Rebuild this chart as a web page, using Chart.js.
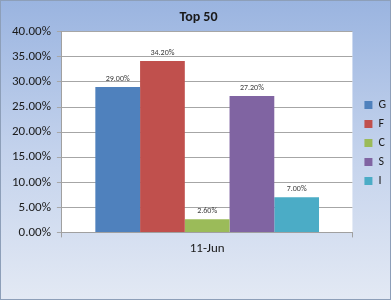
<!DOCTYPE html>
<html>
<head>
<meta charset="utf-8">
<script src="https://cdn.jsdelivr.net/npm/chart.js@4/dist/chart.umd.min.js"></script>
<style>
  html, body { margin: 0; padding: 0; background: #fff; }
  #wrap { width: 391px; height: 300px; }
</style>
</head>
<body>
<div id="wrap"><canvas id="c" width="391" height="300"></canvas></div>
<script>
const categories = ['11-Jun'];
const seriesNames = ['G', 'F', 'C', 'S', 'I'];
const seriesValues = [29.0, 34.2, 2.6, 27.2, 7.0];
const seriesColors = ['#4f81bd', '#c0504d', '#9bbb59', '#8064a2', '#4bacc6'];
const yTicks = [0, 5, 10, 15, 20, 25, 30, 35, 40];

const fontFam = 'Carlito, Lato, "Liberation Sans", sans-serif';

const backdrop = {
    id: 'backdrop',
    beforeDraw(chart) {
        const ctx = chart.ctx;
        const w = chart.width, h = chart.height;
        const g = ctx.createLinearGradient(0, 0, 0, h);
        g.addColorStop(0, '#9ab4e0');
        g.addColorStop(0.5, '#c3d2ec');
        g.addColorStop(1, '#e3e9f4');
        ctx.save();
        ctx.fillStyle = g;
        ctx.fillRect(0, 0, w, h);
        ctx.strokeStyle = '#8d9fb9';
        ctx.lineWidth = 1;
        ctx.strokeRect(0.5, 0.5, w - 1, h - 1);
        const a = chart.chartArea;
        ctx.fillStyle = '#ffffff';
        ctx.fillRect(a.left, a.top, a.right - a.left, a.bottom - a.top);
        ctx.restore();
    }
};

// nudge legend a little, like the excel original
const legendShift = {
    id: 'legendShift',
    afterLayout(chart) {
        const lg = chart.legend;
        const dx = 5, dy = 10;
        lg.left += dx;
        lg.right += dx;
        lg.top += dy;
        lg.bottom += dy;
        (lg.legendHitBoxes || []).forEach(b => { b.left += dx; b.top += dy; });
    }
};

const barLabels = {
    id: 'barLabels',
    afterDatasetsDraw(chart) {
        const ctx = chart.ctx;
        ctx.save();
        ctx.font = '8px ' + fontFam;
        ctx.fillStyle = '#404040';
        ctx.textAlign = 'center';
        ctx.textBaseline = 'bottom';
        chart.data.datasets.forEach((ds, i) => {
            chart.getDatasetMeta(i).data.forEach((bar, j) => {
                ctx.fillText(ds.data[j].toFixed(2) + '%', bar.x, bar.y - 4);
            });
        });
        ctx.restore();
    }
};

new Chart(document.getElementById('c'), {
    type: 'bar',
    data: {
        labels: categories,
        datasets: seriesNames.map((name, i) => ({
            label: name,
            data: [seriesValues[i]],
            backgroundColor: seriesColors[i],
            borderWidth: 0,
            barPercentage: 1,
            categoryPercentage: 0.77
        }))
    },
    options: {
        responsive: false,
        animation: false,
        layout: { padding: { top: 5, left: 6, right: 0, bottom: 39 } },
        plugins: {
            title: {
                display: true,
                text: 'Top 50',
                color: '#1a1a1a',
                font: { family: fontFam, size: 14, weight: 'bold' },
                padding: { top: 4, bottom: 6 }
            },
            legend: {
                position: 'right',
                align: 'center',
                labels: {
                    boxWidth: 8,
                    boxHeight: 8,
                    padding: 7,
                    color: '#1a1a1a',
                    font: { family: fontFam, size: 12 }
                }
            },
            tooltip: { enabled: false }
        },
        scales: {
            x: {
                grid: { display: true, drawOnChartArea: false, drawTicks: true, tickLength: 5, color: '#a0a0a0' },
                border: { color: '#a0a0a0' },
                ticks: { color: '#1a1a1a', font: { family: fontFam, size: 13 }, padding: 4 }
            },
            y: {
                min: 0,
                max: 40,
                afterBuildTicks(axis) { axis.ticks = yTicks.map(v => ({ value: v })); },
                grid: { color: '#a6a6a6', tickLength: 5 },
                border: { color: '#a0a0a0' },
                ticks: {
                    color: '#1a1a1a',
                    font: { family: fontFam, size: 13 },
                    padding: 6,
                    callback: v => v.toFixed(2) + '%'
                }
            }
        }
    },
    plugins: [backdrop, legendShift, barLabels]
});
</script>
</body>
</html>
